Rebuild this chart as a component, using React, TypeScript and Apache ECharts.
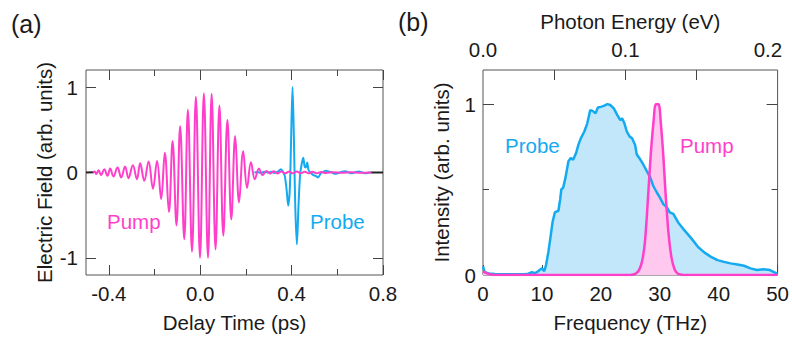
import React, { useEffect, useRef } from "react";
import * as echarts from "echarts";

// ---------- Panel (a): electric field waveforms ----------
const pumpTime = [
  -0.47, -0.462, -0.455, -0.445, -0.434, -0.42, -0.406, -0.394, -0.38, -0.362, -0.346, -0.329, -0.314,
  -0.295, -0.277, -0.263, -0.245, -0.226, -0.207, -0.189, -0.171, -0.155, -0.137, -0.121, -0.104,
  -0.088, -0.07, -0.054, -0.036, -0.019, -0.001, 0.016, 0.034, 0.05, 0.067, 0.084, 0.101, 0.119,
  0.136, 0.153, 0.17, 0.188, 0.205, 0.222, 0.239, 0.257, 0.273, 0.29, 0.305, 0.322, 0.338, 0.355,
  0.372, 0.39, 0.405, 0.422, 0.44, 0.457, 0.475, 0.49, 0.51, 0.53, 0.55, 0.58, 0.62, 0.66, 0.7, 0.75,
];
const pumpField = [
  0.0, 0.012, -0.018, 0.027, -0.031, 0.038, -0.039, 0.046, -0.046, 0.058, -0.058, 0.07, -0.066,
  0.085, -0.078, 0.108, -0.097, 0.13, -0.19, 0.135, -0.309, 0.232, -0.463, 0.368, -0.618,
  0.541, -0.78, 0.734, -0.927, 0.888, -0.998, 0.927, -0.998, 0.923, -0.9, 0.785, -0.74, 0.614,
  -0.55, 0.428, -0.35, 0.25, -0.18, 0.12, -0.078, 0.046, -0.03, 0.018, -0.012, 0.014, -0.012, 0.012,
  -0.01, 0.012, -0.01, 0.012, -0.01, 0.01, -0.01, 0.008, -0.008, 0.006, -0.006, 0.004, -0.004, 0.004, -0.003, 0.0,
];
const probeTime = [
  0.237, 0.25, 0.265, 0.28, 0.295, 0.31, 0.325, 0.34, 0.353, 0.362, 0.37, 0.378, 0.385, 0.392, 0.397,
  0.404, 0.41, 0.416, 0.423, 0.43, 0.437, 0.444, 0.451, 0.457, 0.462, 0.468, 0.474, 0.482, 0.495,
  0.505, 0.516, 0.525, 0.533, 0.55, 0.565, 0.577, 0.59, 0.605, 0.62, 0.635, 0.65, 0.665, 0.68, 0.695,
  0.71, 0.725, 0.745,
];
const probeField = [
  0.0, 0.005, -0.005, 0.01, 0.0, 0.008, -0.005, 0.01, 0.038, 0.01, -0.04, -0.2, -0.387, -0.2, 0.3,
  1.0, 0.4, -0.4, -0.842, -0.4, -0.03, 0.1, 0.174, 0.07, 0.06, 0.116, 0.03, 0.0, -0.03,
  -0.04, -0.058, -0.02, 0.0, 0.02, 0.008, 0.0, -0.015, -0.005, 0.008, 0.015, 0.0, -0.01, 0.005, 0.012,
  0.0, -0.008, 0.002,
];
const refLeftTime = [-0.5, -0.465];
const refLeftField = [0.0, 0.002];
const refRightTime = [0.745, 0.8];
const refRightField = [0.0, 0.0];

const timeMajorTicks = [-0.4, 0, 0.4, 0.8];
const timeMinorTicks = [-0.2, 0.2, 0.6];
const fieldTicks = [-1, 0, 1];

// ---------- Panel (b): spectra ----------
const probeFreq = [
  0.0, 0.3, 1.0, 2.0, 3.2, 4.5, 6.0, 7.0, 7.7, 8.3, 8.8, 9.4, 10.0, 10.4, 10.7, 11.1, 11.5, 11.8,
  12.2, 12.8, 13.1, 13.3, 13.6, 14.0, 14.5, 14.9, 15.3, 15.8, 16.2, 16.6, 17.2, 17.7, 18.2, 18.6,
  19.1, 19.5, 20.0, 20.5, 21.1, 21.6, 22.2, 22.8, 23.3, 23.6, 24.0, 24.4, 24.9, 25.3, 25.8, 26.1,
  26.7, 27.2, 27.8, 28.4, 28.9, 29.5, 30.0, 30.6, 31.2, 31.7, 32.3, 33.1, 34.2, 35.4, 36.5, 37.6,
  38.7, 39.8, 40.9, 42.0, 43.2, 44.3, 45.4, 46.5, 47.6, 48.7, 49.8, 50.0,
];
const probeIntensity = [
  0.05, 0.016, 0.009, 0.006, 0.005, 0.004, 0.005, 0.004, 0.008, 0.016, 0.01, 0.023, 0.039, 0.023,
  0.058, 0.135, 0.232, 0.309, 0.367, 0.376, 0.444, 0.502, 0.51, 0.57, 0.666, 0.685, 0.675, 0.714,
  0.763, 0.8, 0.84, 0.888, 0.965, 0.961, 0.946, 0.98, 0.984, 0.99, 1.0, 0.995, 0.975, 0.936, 0.907,
  0.917, 0.888, 0.84, 0.81, 0.8, 0.763, 0.705, 0.676, 0.647, 0.608, 0.57, 0.521, 0.483, 0.454,
  0.415, 0.396, 0.367, 0.358, 0.309, 0.261, 0.213, 0.164, 0.131, 0.106, 0.087, 0.077, 0.068, 0.062,
  0.054, 0.039, 0.029, 0.033, 0.029, 0.01, 0.008,
];
const pumpFreq = [
  0.0, 0.5, 1.0, 1.5, 2.5, 25.0, 25.5, 26.0, 26.5, 27.0, 27.5, 28.0, 28.5, 29.0, 29.3, 29.8, 30.2,
  30.6, 31.0, 31.5, 32.0, 32.5, 33.0, 33.5, 34.0, 50.0,
];
const pumpIntensity = [
  0.02, 0.012, 0.006, 0.002, 0.0, 0.0, 0.003, 0.01, 0.03, 0.08, 0.2, 0.45, 0.72, 0.92, 1.0, 1.0, 0.88,
  0.7, 0.47, 0.24, 0.1, 0.035, 0.01, 0.003, 0.0, 0.0,
];

const freqLabels = [0, 10, 20, 30, 40, 50];
const energyLabels = [0, 0.1, 0.2];
const energyTicks = [0.05, 0.1, 0.15];
const intensityLabels = [0, 1];
const intensityMinor = [0.5];

const THZ_PER_EV = 241.799;

const PINK = "#ff3fca";
const BLUE = "#14aaf0";
const BLUE_FILL = "#c3e7fa";
const PINK_FILL = "#ffc8ef";
const FONT = "'Liberation Sans', Arial, sans-serif";
const FS = 20.5;
const TXT = "#1a1a1a";
const TICK = "#444";

const zip = (xs: number[], ys: number[]) => xs.map((x, i) => [x, ys[i]]);

function tickAxis(extra: any) {
  return {
    type: "value",
    axisLine: { show: false, onZero: false },
    splitLine: { show: false },
    axisLabel: { show: false },
    ...extra,
  };
}

export default function App() {
  const ref = useRef<HTMLDivElement>(null);

  useEffect(() => {
    if (!ref.current) return;
    const chart = echarts.init(ref.current, undefined, { renderer: "svg" });
    const labelStyle = { fontSize: FS, color: TXT, fontFamily: FONT };
    const nameStyle = { fontSize: FS, color: TXT, fontFamily: FONT };
    const eMax = freqLabels[freqLabels.length - 1] / THZ_PER_EV;

    const option: any = {
      animation: false,
      textStyle: { fontFamily: FONT },
      grid: [
        { left: 86, top: 70, width: 297, height: 207, show: true, borderColor: "#555", borderWidth: 1, backgroundColor: "transparent" },
        { left: 483, top: 70, width: 298, height: 207, show: true, borderColor: "#555", borderWidth: 1, backgroundColor: "transparent" },
      ],
      xAxis: [
        tickAxis({
          gridIndex: 0, position: "bottom", min: -0.5, max: 0.8,
          axisTick: { customValues: timeMajorTicks, inside: true, length: 10, lineStyle: { color: TICK } },
          axisLabel: { show: true, customValues: timeMajorTicks, formatter: (v: number) => v.toFixed(1), margin: 8, ...labelStyle },
          name: "Delay Time (ps)", nameLocation: "middle", nameGap: 37, nameTextStyle: nameStyle,
        }),
        tickAxis({
          gridIndex: 0, position: "bottom", min: -0.5, max: 0.8,
          axisTick: { customValues: timeMinorTicks, inside: true, length: 6, lineStyle: { color: TICK } },
        }),
        tickAxis({
          gridIndex: 0, position: "top", min: -0.5, max: 0.8,
          axisTick: { customValues: timeMajorTicks, inside: true, length: 10, lineStyle: { color: TICK } },
        }),
        tickAxis({
          gridIndex: 0, position: "top", min: -0.5, max: 0.8,
          axisTick: { customValues: timeMinorTicks, inside: true, length: 6, lineStyle: { color: TICK } },
        }),
        tickAxis({
          gridIndex: 1, position: "bottom", min: 0, max: 50, interval: 10,
          axisTick: { inside: true, length: 10, lineStyle: { color: TICK } },
          axisLabel: { show: true, customValues: freqLabels, margin: 8, ...labelStyle },
          name: "Frequency (THz)", nameLocation: "middle", nameGap: 37, nameTextStyle: nameStyle,
        }),
        tickAxis({
          gridIndex: 1, position: "top", min: 0, max: eMax,
          axisTick: { customValues: energyTicks, inside: true, length: 10, lineStyle: { color: TICK } },
          axisLabel: { show: true, customValues: energyLabels, formatter: (v: number) => v.toFixed(1), margin: 10, ...labelStyle },
          name: "Photon Energy (eV)", nameLocation: "middle", nameGap: 38, nameTextStyle: nameStyle,
        }),
      ],
      yAxis: [
        tickAxis({
          gridIndex: 0, position: "left", min: -1.2, max: 1.2,
          axisTick: { customValues: fieldTicks, inside: true, length: 10, lineStyle: { color: TICK } },
          axisLabel: { show: true, customValues: fieldTicks, margin: 8, ...labelStyle },
          name: "Electric Field (arb. units)", nameLocation: "middle", nameGap: 31, nameTextStyle: nameStyle,
        }),
        tickAxis({
          gridIndex: 0, position: "right", min: -1.2, max: 1.2,
          axisTick: { customValues: fieldTicks, inside: true, length: 10, lineStyle: { color: TICK } },
        }),
        tickAxis({
          gridIndex: 1, position: "left", min: 0, max: 1.2,
          axisTick: { customValues: [1], inside: true, length: 11, lineStyle: { color: TICK } },
          axisLabel: { show: true, customValues: intensityLabels, margin: 7, ...labelStyle },
          name: "Intensity (arb. units)", nameLocation: "middle", nameGap: 31, nameTextStyle: nameStyle,
        }),
        tickAxis({
          gridIndex: 1, position: "left", min: 0, max: 1.2,
          axisTick: { customValues: intensityMinor, inside: true, length: 6, lineStyle: { color: TICK } },
        }),
        tickAxis({
          gridIndex: 1, position: "right", min: 0, max: 1.2,
          axisTick: { customValues: [1], inside: true, length: 11, lineStyle: { color: TICK } },
        }),
        tickAxis({
          gridIndex: 1, position: "right", min: 0, max: 1.2,
          axisTick: { customValues: intensityMinor, inside: true, length: 6, lineStyle: { color: TICK } },
        }),
      ],
      series: [
        { type: "line", xAxisIndex: 0, yAxisIndex: 0, data: zip(refLeftTime, refLeftField), showSymbol: false, lineStyle: { color: "#222", width: 2 } },
        { type: "line", xAxisIndex: 0, yAxisIndex: 0, data: zip(refRightTime, refRightField), showSymbol: false, lineStyle: { color: "#222", width: 2 } },
        { type: "line", xAxisIndex: 0, yAxisIndex: 0, data: zip(probeTime, probeField), showSymbol: false, smooth: 0.3, lineStyle: { color: BLUE, width: 2 } },
        { type: "line", xAxisIndex: 0, yAxisIndex: 0, data: zip(pumpTime, pumpField), showSymbol: false, smooth: 0.4, lineStyle: { color: PINK, width: 2 } },
        { type: "line", xAxisIndex: 4, yAxisIndex: 2, data: zip(probeFreq, probeIntensity), showSymbol: false, lineStyle: { width: 0, opacity: 0 }, areaStyle: { color: BLUE_FILL, opacity: 1 } },
        { type: "line", xAxisIndex: 4, yAxisIndex: 2, data: zip(pumpFreq, pumpIntensity), showSymbol: false, smooth: 0.3, lineStyle: { width: 0, opacity: 0 }, areaStyle: { color: PINK_FILL, opacity: 1 } },
        { type: "line", xAxisIndex: 4, yAxisIndex: 2, data: zip(probeFreq, probeIntensity), showSymbol: false, lineStyle: { color: BLUE, width: 2.5 } },
        { type: "line", xAxisIndex: 4, yAxisIndex: 2, data: zip(pumpFreq, pumpIntensity), showSymbol: false, smooth: 0.3, lineStyle: { color: PINK, width: 2.5 } },
      ],
      graphic: [
        { type: "text", left: 11, top: 11, style: { text: "(a)", fontSize: 25, fill: TXT, fontFamily: FONT } },
        { type: "text", left: 398, top: 9, style: { text: "(b)", fontSize: 25, fill: TXT, fontFamily: FONT } },
        { type: "text", left: 107, top: 211, style: { text: "Pump", fontSize: 20.5, fill: PINK, fontFamily: FONT } },
        { type: "text", left: 310, top: 211, style: { text: "Probe", fontSize: 20.5, fill: BLUE, fontFamily: FONT } },
        { type: "text", left: 505, top: 135, style: { text: "Probe", fontSize: 20.5, fill: BLUE, fontFamily: FONT } },
        { type: "text", left: 680, top: 135, style: { text: "Pump", fontSize: 20.5, fill: PINK, fontFamily: FONT } },
      ],
    };
    chart.setOption(option);
    return () => chart.dispose();
  }, []);

  return (
    <div
      ref={ref}
      style={{ position: "fixed", left: 0, top: 0, width: 792, height: 338, background: "#fff" }}
    />
  );
}
